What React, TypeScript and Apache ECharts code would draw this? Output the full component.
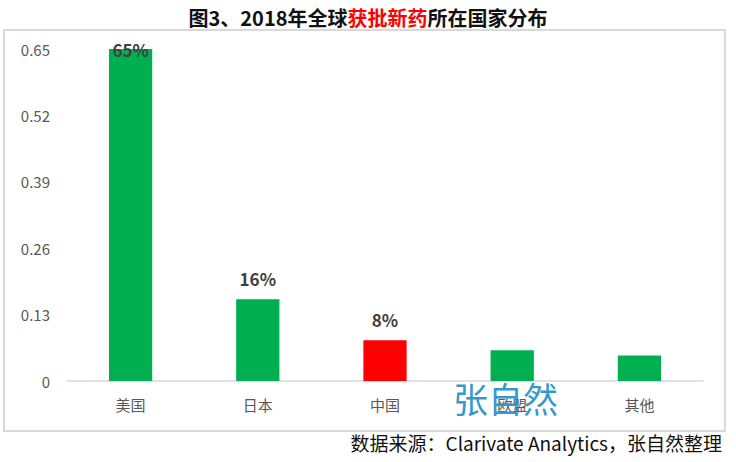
import React, { useEffect, useRef } from "react";
import * as echarts from "echarts";

const categories = ["美国", "日本", "中国", "欧盟", "其他"];
const values = [0.65, 0.16, 0.08, 0.06, 0.05];
const labels = ["65%", "16%", "8%", "", ""];
const barColors = ["#00b050", "#00b050", "#ff0000", "#00b050", "#00b050"];
const yTicks = { min: 0, max: 0.65, interval: 0.13 };

export default function App() {
  const ref = useRef<HTMLDivElement>(null);
  useEffect(() => {
    const chart = echarts.init(ref.current!, null, { renderer: "svg" });
    const font = '"Noto Sans CJK SC", "Microsoft YaHei", sans-serif';
    chart.setOption({
      animation: false,
      backgroundColor: "#ffffff",
      textStyle: { fontFamily: font },
      title: {
        text: "{a|图3、2018年全球}{b|获批新药}{a|所在国家分布}",
        left: "center",
        top: 2,
        textStyle: {
          rich: {
            a: { fontSize: 20, fontWeight: "bold", color: "#111111", fontFamily: font },
            b: { fontSize: 20, fontWeight: "bold", color: "#ff0000", fontFamily: font },
          },
        },
      },
      graphic: [
        {
          type: "rect",
          shape: { x: 4, y: 30, width: 721, height: 401 },
          style: { fill: "none", stroke: "#d9d9d9", lineWidth: 2 },
          z: -1,
        },
        {
          type: "text",
          right: 14,
          top: 433,
          style: {
            text: "数据来源：Clarivate Analytics，张自然整理",
            fontSize: 19,
            fill: "#111111",
            fontFamily: font,
          },
        },
        {
          type: "text",
          left: 453,
          top: 380,
          z: 100,
          style: {
            text: "张自然",
            fontSize: 35,
            fill: "#2a93c6",
            fontFamily: font,
            opacity: 0.95,
          },
        },
      ],
      grid: { left: 67, right: 33, top: 49, bottom: 81 },
      xAxis: {
        type: "category",
        data: categories,
        axisLine: { lineStyle: { color: "#d9d9d9", width: 1.5 } },
        axisTick: { show: false },
        axisLabel: { color: "#595959", fontSize: 15, margin: 16 },
      },
      yAxis: {
        type: "value",
        min: yTicks.min,
        max: yTicks.max,
        interval: yTicks.interval,
        splitLine: { show: false },
        axisLine: { show: false },
        axisTick: { show: false },
        axisLabel: {
          color: "#595959",
          fontSize: 15,
          margin: 17,
          formatter: (v: number) => (v === 0 ? "0" : v.toFixed(2)),
        },
      },
      series: [
        {
          type: "bar",
          barWidth: "34%",
          data: values.map((v, i) => ({
            value: v,
            itemStyle: { color: barColors[i] },
            label: {
              show: labels[i] !== "",
              formatter: labels[i],
              position: i === 0 ? "insideTop" : "top",
              distance: i === 0 ? -8 : 12,
              color: "#404040",
              fontSize: 17,
              fontWeight: "bold",
            },
          })),
        },
      ],
    });
    return () => chart.dispose();
  }, []);
  return <div ref={ref} style={{ width: 736, height: 462, position: "fixed", left: 0, top: 0 }} />;
}
